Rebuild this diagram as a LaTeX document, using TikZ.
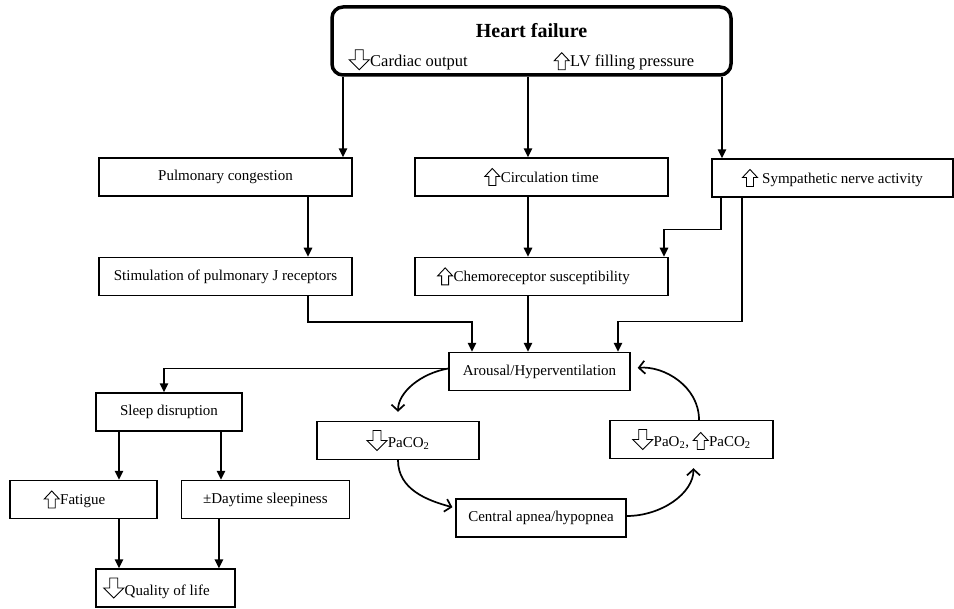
\documentclass[tikz,border=0pt]{standalone}
\usepackage{fontspec}
\setmainfont{Liberation Serif}
\usepackage{tikz}
\usetikzlibrary{arrows.meta, positioning, calc}
% hollow up and down arrows of the labels
\newcommand{\uparr}{\tikz[baseline=0pt, x=1pt, y=1pt, line width=0.9pt, sharp corners]
  \draw (-3.5,-3) -- (-3.5,6) -- (-7.5,6) -- (0,14) -- (7.5,6) -- (3.5,6) -- (3.5,-3) -- cycle;\hspace{0.5pt}}
\newcommand{\dnarr}{\tikz[baseline=0pt, x=1pt, y=1pt, line width=0.9pt, sharp corners]
  \draw (-4,17) -- (-4,7) -- (-10,7) -- (0,-3) -- (10,7) -- (4,7) -- (4,17) -- cycle;\hspace{0.5pt}}

\begin{document}
\begin{tikzpicture}[x=1pt, y=1pt,
  box/.style={draw, line width=1.4pt, minimum height=38pt, inner sep=2pt,
    font=\fontsize{15}{18}\selectfont},
  hfbox/.style={draw, line width=3.5pt, rounded corners=11pt,
    minimum width=399pt, minimum height=68pt, align=center,
    font=\fontsize{16.5}{20}\selectfont},
  arrow/.style={-{Triangle[length=9pt,width=8.5pt]}, line width=1.5pt},
  loop/.style={-{Straight Barb[length=6pt,width=13pt]}, line width=1.7pt}]
  \useasboundingbox (0,0) rectangle (954,-609);

  \node[hfbox] (hf) at (531.5,-41) {\rule{0pt}{26pt}{\fontsize{20}{22}\selectfont\bfseries Heart failure}\\[9pt]
    \dnarr Cardiac output\hspace{86pt}\uparr LV filling pressure\hspace*{20pt}};

  \node[box, minimum width=253pt] (pc) at (225.5,-177) {Pulmonary congestion};
  \node[box, minimum width=253pt] (ct) at (541.5,-177) {\uparr Circulation time};
  \node[box, minimum width=241pt] (sn) at (832.5,-178) {\uparr\ Sympathetic nerve activity};
  \node[box, minimum width=253pt, below=60pt of pc] (sj) {Stimulation of pulmonary J receptors};
  \node[box, minimum width=253pt, below=60pt of ct] (cs) {\uparr Chemoreceptor susceptibility\hspace*{16pt}};

  \node[box, minimum width=181pt] (ah) at (539.5,-371.5) {Arousal/Hyperventilation};
  \node[box, minimum width=146pt] (sd) at (169,-412) {Sleep disruption};
  \node[box, minimum width=162pt] (pl) at (398,-440.5) {\dnarr PaCO\textsubscript{2}};
  \node[box, minimum width=163pt] (po) at (691.5,-439.5) {\dnarr PaO\textsubscript{2}, \uparr PaCO\textsubscript{2}};
  \node[box, minimum width=170pt] (ca) at (541,-518) {Central apnea/hypopnea};
  \node[box, minimum width=147pt] (fa) at (83.5,-499.5) {\uparr Fatigue\hspace*{18pt}};
  \node[box, minimum width=168pt, right=23pt of fa] (ds) {±Daytime sleepiness};
  \node[box, minimum width=139pt] (ql) at (165.5,-588) {\dnarr Quality of life\hspace*{18pt}};

  % heart failure branches
  \draw[arrow] ([xshift=-188.5pt]hf.south) -- ([xshift=-188.5pt]hf.south |- pc.north);
  \draw[arrow] ([xshift=-3.5pt]hf.south) -- ([xshift=-3.5pt]hf.south |- ct.north);
  \draw[arrow] ([xshift=190.5pt]hf.south) -- ([xshift=190.5pt]hf.south |- sn.north);

  \draw[arrow] ([xshift=82.5pt]pc.south) -- ([xshift=82.5pt]sj.north);
  \draw[arrow] ([xshift=-13.5pt]ct.south) -- ([xshift=-13.5pt]cs.north);
  \draw[arrow] ([xshift=-111.5pt]sn.south) -- ++(0,-32pt) -| ([xshift=122.5pt]cs.north);

  % into arousal
  \draw[arrow] ([xshift=82.5pt]sj.south) -- ++(0,-26pt) -| ([xshift=-67.5pt]ah.north);
  \draw[arrow] ([xshift=-13.5pt]cs.south) -- ([xshift=-13.5pt]cs.south |- ah.north);
  \draw[arrow] ([xshift=-90.5pt]sn.south) -- ++(0,-124pt) -| ([xshift=78.5pt]ah.north);

  % sleep branch
  \draw[arrow] ([yshift=3pt]ah.west) -| ([xshift=-5pt]sd.north);
  \draw[arrow] ([xshift=-50pt]sd.south) -- ([xshift=-50pt]sd.south |- fa.north);
  \draw[arrow] ([xshift=52pt]sd.south) -- ([xshift=52pt]sd.south |- ds.north);
  \draw[arrow] ([xshift=35.5pt]fa.south) -- ([xshift=35.5pt]fa.south |- ql.north);
  \draw[arrow] ([xshift=-46.5pt]ds.south) -- ([xshift=-46.5pt]ds.south |- ql.north);

  % the cycle
  \draw[loop, shorten >=9pt] ([yshift=3pt]ah.west) to[out=190, in=90] (pl.north);
  \draw[loop, shorten >=3pt] (pl.south) to[out=-90, in=165] ([yshift=10pt]ca.west);
  \draw[loop, shorten >=9pt] ([yshift=2pt]ca.east) to[out=0, in=-90] ([xshift=2pt]po.south);
  \draw[loop, shorten >=7pt] ([xshift=7.5pt]po.north) to[out=90, in=5] ([yshift=3pt]ah.east);
\end{tikzpicture}
\end{document}
